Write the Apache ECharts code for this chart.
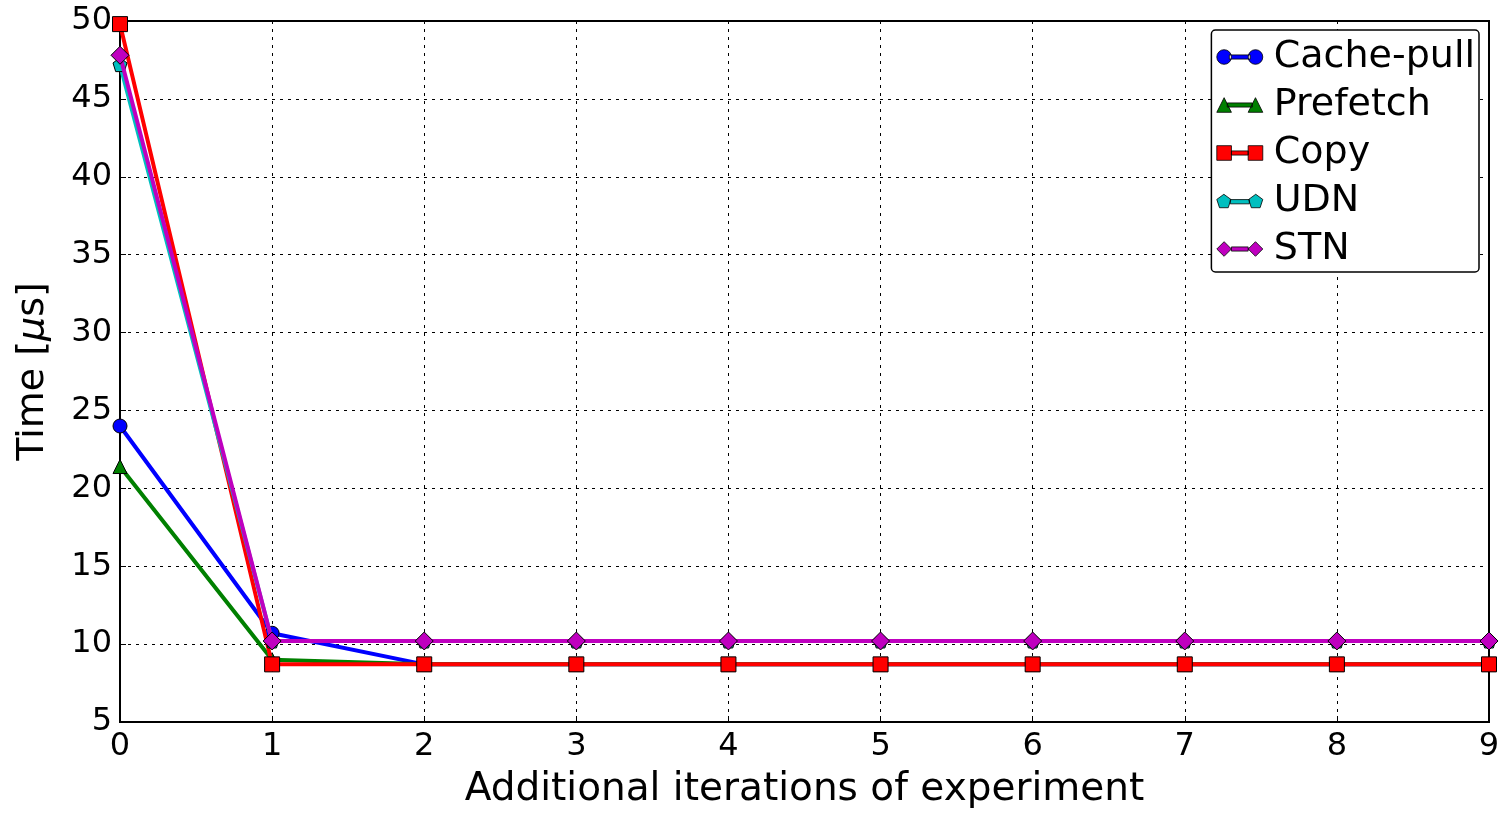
<!DOCTYPE html>
<html>
<head>
<meta charset="utf-8">
<script src="https://cdn.jsdelivr.net/npm/echarts@6/dist/echarts.min.js"></script>
<style>
  html, body { margin: 0; padding: 0; background: #fff; }
  #chart { width: 1509px; height: 814px; }
</style>
</head>
<body>
<div id="chart"></div>
<script>
// iterations on the x axis
var iterations = [0, 1, 2, 3, 4, 5, 6, 7, 8, 9]
var yTicks = [5, 10, 15, 20, 25, 30, 35, 40, 45, 50]
// times in microseconds
var cachePull = [24.0, 10.7, 8.7, 8.7, 8.7, 8.7, 8.7, 8.7, 8.7, 8.7]
var prefetch = [21.4, 9.0, 8.7, 8.7, 8.7, 8.7, 8.7, 8.7, 8.7, 8.7]
var copy = [49.8, 8.7, 8.7, 8.7, 8.7, 8.7, 8.7, 8.7, 8.7, 8.7]
var udn = [47.2, 10.2, 10.2, 10.2, 10.2, 10.2, 10.2, 10.2, 10.2, 10.2]
var stn = [47.8, 10.2, 10.2, 10.2, 10.2, 10.2, 10.2, 10.2, 10.2, 10.2]

var font = 'DejaVu Sans'

// marker shapes (matplotlib o ^ s p D)
var pentagon = 'path://M7,0 L13.66,4.84 L11.11,12.66 L2.89,12.66 L0.34,4.84 Z'
var seriesDefs = [
  { name: 'Cache-pull', data: cachePull, color: '#0000ff', symbol: 'circle', size: 14,
    icon: 'path://M0,7 A7,7 0 1,0 14,7 A7,7 0 1,0 0,7 Z M12,5 L32,5 L32,9 L12,9 Z M30,7 A7,7 0 1,0 44,7 A7,7 0 1,0 30,7 Z' },
  { name: 'Prefetch', data: prefetch, color: '#008000', symbol: 'triangle', size: 14,
    icon: 'path://M0,14 L7,0 L14,14 Z M10,5 L34,5 L34,9 L10,9 Z M30,14 L37,0 L44,14 Z' },
  { name: 'Copy', data: copy, color: '#ff0000', symbol: 'rect', size: 15,
    icon: 'path://M0,0 L14,0 L14,14 L0,14 Z M14,5 L30,5 L30,9 L14,9 Z M30,0 L44,0 L44,14 L30,14 Z' },
  { name: 'UDN', data: udn, color: '#00bfbf', symbol: pentagon, size: 14,
    icon: 'path://M7,0 L13.66,4.84 L11.11,12.66 L2.89,12.66 L0.34,4.84 Z M13,5 L31,5 L31,9 L13,9 Z M37,0 L43.66,4.84 L41.11,12.66 L32.89,12.66 L30.34,4.84 Z' },
  { name: 'STN', data: stn, color: '#bf00bf', symbol: 'diamond', size: 18,
    icon: 'path://M7,0 L14,7 L7,14 L0,7 Z M14,5 L30,5 L30,9 L14,9 Z M37,0 L44,7 L37,14 L30,7 Z' }
]

var series = []
var legendData = []
for (var i = 0; i < seriesDefs.length; i++) {
  var d = seriesDefs[i]
  var pts = []
  for (var k = 0; k < iterations.length; k++) {
    pts.push([iterations[k], d.data[k]])
  }
  series.push({
    name: d.name,
    type: 'line',
    data: pts,
    symbol: d.symbol,
    symbolSize: d.size,
    showAllSymbol: true,
    clip: true,
    z: 2 + i,
    lineStyle: { color: d.color, width: 4 },
    itemStyle: { color: d.color, borderColor: '#000', borderWidth: 1 },
    emphasis: { disabled: true },
    animation: false
  })
  legendData.push({ name: d.name, icon: d.icon })
}

var myChart = echarts.init(document.getElementById('chart'))
myChart.setOption({
  backgroundColor: '#fff',
  animation: false,
  grid: {
    left: 120, right: 20, top: 21, bottom: 86,
    show: true, borderColor: '#000', borderWidth: 2, backgroundColor: 'transparent'
  },
  legend: {
    data: legendData,
    orient: 'vertical',
    right: 30,
    top: 30,
    itemWidth: 46,
    itemHeight: 16,
    itemGap: 6,
    padding: [6, 4, 2, 5],
    borderColor: '#000',
    borderWidth: 1.5,
    borderRadius: 4,
    backgroundColor: '#fff',
    textStyle: { fontFamily: font, fontSize: 38, color: '#000', lineHeight: 42, padding: [0, 0, 0, 6] },
    itemStyle: { borderColor: '#000', borderWidth: 0.8 }
  },
  xAxis: {
    type: 'value',
    min: 0,
    max: 9,
    interval: 1,
    name: 'Additional iterations of experiment',
    nameLocation: 'middle',
    nameGap: 48,
    nameTextStyle: { fontFamily: font, fontSize: 39, color: '#000' },
    axisLine: { show: true, lineStyle: { color: '#000', width: 2 } },
    axisTick: { show: true, inside: true, length: 6, lineStyle: { color: '#000', width: 1 } },
    axisLabel: { fontFamily: font, fontSize: 32, color: '#000', margin: 9 },
    splitLine: { show: true, lineStyle: { color: '#000', width: 1, type: [3, 5] } }
  },
  yAxis: {
    type: 'value',
    min: yTicks[0],
    max: yTicks[yTicks.length - 1],
    interval: 5,
    name: 'Time [{i|μ}s]',
    nameLocation: 'middle',
    nameGap: 68,
    nameTextStyle: {
      fontFamily: font, fontSize: 38, color: '#000',
      rich: { i: { fontFamily: font, fontSize: 38, fontStyle: 'italic', color: '#000' } }
    },
    axisLine: { show: true, lineStyle: { color: '#000', width: 2 } },
    axisTick: { show: true, inside: true, length: 6, lineStyle: { color: '#000', width: 1 } },
    axisLabel: { fontFamily: font, fontSize: 32, color: '#000', margin: 8 },
    splitLine: { show: true, lineStyle: { color: '#000', width: 1, type: [3, 5] } }
  },
  series: series
})
</script>
</body>
</html>
